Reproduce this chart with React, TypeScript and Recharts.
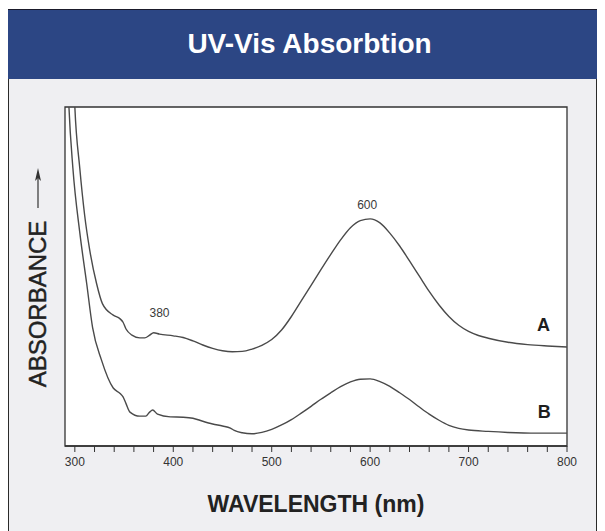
import React from 'react';
import {
  LineChart,
  Line,
  XAxis,
  YAxis,
  CartesianGrid,
  ReferenceArea,
  ReferenceDot,
} from 'recharts';

// Curve A (upper trace)
const wavelengthA = [
  297, 300, 305, 310, 315, 322, 328, 339, 346, 349, 352, 358, 366, 371, 376, 380, 386,
  400, 410, 420, 430, 440, 450, 460, 470, 480, 490, 500, 510, 520, 530, 540, 550, 560, 570,
  580, 590, 600, 610, 620, 630, 640, 650, 660, 670, 680, 690, 700, 710, 720, 740, 760, 780,
  800,
];
const absorbanceA = [
  1.25, 1.0, 0.82, 0.68, 0.58, 0.48, 0.42, 0.386, 0.375, 0.365, 0.345, 0.327, 0.319, 0.319,
  0.327, 0.334, 0.33, 0.325, 0.32, 0.31, 0.298, 0.288, 0.281, 0.278, 0.279, 0.286, 0.297,
  0.314, 0.342, 0.382, 0.428, 0.474, 0.52, 0.565, 0.608, 0.644, 0.665, 0.67, 0.658, 0.628,
  0.59, 0.546, 0.501, 0.456, 0.416, 0.382, 0.356, 0.338, 0.326, 0.318, 0.306, 0.299, 0.295,
  0.292,
];

// Curve B (lower trace)
const wavelengthB = [
  291, 294, 298, 305, 312, 318, 327, 339, 346, 349, 352, 356, 366, 372, 376, 379, 384, 397,
  410, 420, 430, 440, 450, 458, 462, 470, 480, 490, 500, 510, 520, 530, 540, 550, 560, 570,
  580, 590, 600, 610, 620, 630, 640, 650, 660, 670, 680, 690, 700, 720, 740, 770, 800,
];
const absorbanceB = [
  1.25, 1.0, 0.82, 0.63, 0.48, 0.35, 0.254, 0.171, 0.155, 0.145, 0.125, 0.1, 0.088, 0.088,
  0.1, 0.106, 0.094, 0.086, 0.085, 0.082, 0.073, 0.065, 0.059, 0.053, 0.046, 0.039, 0.036,
  0.04, 0.049, 0.062, 0.078, 0.097, 0.117, 0.138, 0.157, 0.175, 0.189, 0.197, 0.198, 0.19,
  0.176, 0.157, 0.137, 0.115, 0.094, 0.076, 0.061, 0.052, 0.047, 0.043, 0.04, 0.038, 0.038,
];

const xTicks = [
  300, 320, 340, 360, 380, 400, 420, 440, 460, 480, 500, 520, 540, 560, 580, 600, 620, 640,
  660, 680, 700, 720, 740, 760, 780, 800,
];

// text annotations: [text, wavelength, absorbance, kind]
const notes: [string, number, number, string][] = [
  ['380', 386, 0.392, 'peak'],
  ['600', 597, 0.711, 'peak'],
  ['A', 776, 0.357, 'curve'],
  ['B', 777, 0.1, 'curve'],
];

const FONT = '"Liberation Sans", Arial, Helvetica, sans-serif';

const dataA = wavelengthA.map((w, i) => ({ wl: w, abs: absorbanceA[i] }));
const dataB = wavelengthB.map((w, i) => ({ wl: w, abs: absorbanceB[i] }));

function NoteLabel({ viewBox, value, kind }: any) {
  const big = kind === 'curve';
  return (
    <text
      x={viewBox.cx ?? viewBox.x}
      y={viewBox.cy ?? viewBox.y}
      textAnchor="middle"
      dominantBaseline="central"
      fontFamily={FONT}
      fontSize={big ? 18 : 12}
      fontWeight={big ? 'bold' : 'normal'}
      fill={big ? '#1e1e1e' : '#3a3a3a'}
    >
      {value}
    </text>
  );
}

export default function App() {
  return (
    <div style={{ position: 'absolute', left: 0, top: 0, width: 605, height: 531, overflow: 'hidden' }}>
      {/* panel */}
      <div
        style={{
          position: 'absolute',
          left: 8,
          top: 9,
          width: 587,
          height: 530,
          background: '#efeff2',
          borderLeft: '1px solid #2a2a2a',
          borderRight: '1px solid #2a2a2a',
          borderTop: '1px solid #2a2a2a',
        }}
      />
      {/* header */}
      <div
        style={{
          position: 'absolute',
          left: 8,
          top: 9,
          width: 589,
          height: 70,
          background: '#2c4684',
          borderTop: '1px solid #1a1a2a',
          boxSizing: 'border-box',
          color: '#fff',
          fontFamily: FONT,
          fontWeight: 'bold',
          fontSize: 28,
          lineHeight: '68px',
          textAlign: 'center',
          paddingLeft: 14,
        }}
      >
        UV-Vis Absorbtion
      </div>
      {/* y axis title with arrow */}
      <svg style={{ position: 'absolute', left: 0, top: 0 }} width={70} height={531}>
        <text
          x={37.5}
          y={304}
          transform="rotate(-90 37.5 304)"
          textAnchor="middle"
          dominantBaseline="central"
          fontFamily={FONT}
          fontSize={24}
          fill="#222"
          stroke="#222"
          strokeWidth={0.45}
        >
          ABSORBANCE
        </text>
        <line x1={38} y1={208} x2={38} y2={176} stroke="#333" strokeWidth={1.2} />
        <path d="M35,181 L38,168 L41,181 L38,178 Z" fill="#333" />
      </svg>
      <div style={{ position: 'absolute', left: 0, top: 0 }}>
        <LineChart
          width={605}
          height={531}
          margin={{ top: 107, right: 38, bottom: 55, left: 65 }}
        >
          <CartesianGrid horizontal={false} vertical={false} fill="#ffffff" />
          <XAxis
            dataKey="wl"
            type="number"
            domain={[290, 800]}
            ticks={xTicks}
            interval={0}
            height={30}
            tickSize={6}
            tickMargin={5}
            tickLine={{ stroke: '#333', strokeWidth: 1 }}
            axisLine={{ stroke: '#333', strokeWidth: 1.3 }}
            tickFormatter={(v: number) => (v % 100 === 0 ? String(v) : '')}
            tick={{ fontFamily: FONT, fontSize: 12, fill: '#333' }}
            allowDataOverflow
            label={{
              value: 'WAVELENGTH (nm)',
              position: 'bottom',
              offset: 20,
              style: { fontFamily: FONT, fontSize: 23, fontWeight: 'bold', fill: '#222' },
            }}
          />
          <YAxis type="number" domain={[0, 1]} allowDataOverflow hide />
          <ReferenceArea
            x1={290}
            x2={800}
            y1={0}
            y2={1}
            fill="none"
            stroke="#333"
            strokeWidth={1.3}
            fillOpacity={0}
          />
          <Line
            data={dataA}
            dataKey="abs"
            type="monotone"
            stroke="#4a4a4a"
            strokeWidth={1.4}
            dot={false}
            isAnimationActive={false}
          />
          <Line
            data={dataB}
            dataKey="abs"
            type="monotone"
            stroke="#4a4a4a"
            strokeWidth={1.4}
            dot={false}
            isAnimationActive={false}
          />
          {notes.map(([text, wl, ab, kind]) => (
            <ReferenceDot
              key={text}
              x={wl}
              y={ab}
              r={0}
              fill="none"
              stroke="none"
              label={<NoteLabel value={text} kind={kind} />}
            />
          ))}
        </LineChart>
      </div>
    </div>
  );
}
